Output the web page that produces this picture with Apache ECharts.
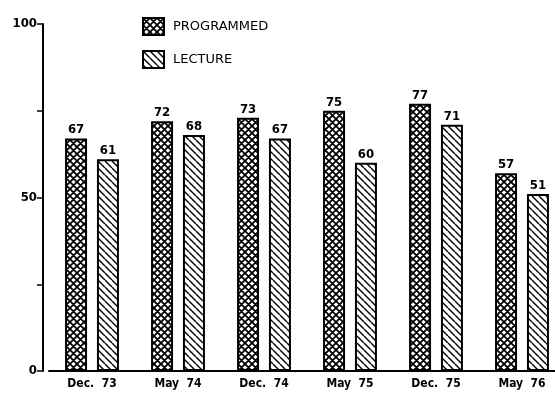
<!DOCTYPE html>
<html><head><meta charset="utf-8">
<script src="https://cdn.jsdelivr.net/npm/echarts@6/dist/echarts.min.js"></script>
<style>html,body{margin:0;padding:0;background:#fff;overflow:hidden}#c{width:565px;height:398px}</style>
</head><body><div id="c"></div>
<script>
const categories = ['Dec.  73', 'May  74', 'Dec.  74', 'May  75', 'Dec.  75', 'May  76'];
const programmed = [67, 72, 73, 75, 77, 57];
const lecture = [61, 68, 67, 60, 71, 51];
const yTickLabels = {0: '0', 50: '50', 100: '100'};

function makePattern(cross) {
  const s = 7;
  const c = document.createElement('canvas');
  c.width = s; c.height = s;
  const ctx = c.getContext('2d');
  ctx.fillStyle = '#fff';
  ctx.fillRect(0, 0, s, s);
  ctx.strokeStyle = '#000';
  ctx.lineWidth = cross ? 1.8 : 1.4;
  ctx.beginPath();
  for (const k of [-s, 0, s]) {
    ctx.moveTo(k, 0); ctx.lineTo(k + s, s);
    if (cross) { ctx.moveTo(k, s); ctx.lineTo(k + s, 0); }
  }
  ctx.stroke();
  return c;
}

const font = '"DejaVu Sans Condensed", "DejaVu Sans", sans-serif';
const chart = echarts.init(document.getElementById('c'), null, {renderer: 'canvas'});
const labelCfg = {show: true, position: 'top', distance: 2, color: '#000', fontWeight: 'bold', fontSize: 13, fontFamily: font};
chart.setOption({
  animation: false,
  backgroundColor: '#fff',
  legend: {
    orient: 'vertical', left: 142, top: 17, padding: 0, itemWidth: 21, itemHeight: 17, itemGap: 14,
    icon: 'rect',
    textStyle: {color: '#000', fontSize: 13, fontFamily: '"DejaVu Sans", sans-serif', padding: [0, 0, 0, 4]},
    data: ['PROGRAMMED', 'LECTURE']
  },
  grid: {left: 49, right: 0, top: 24, bottom: 27},
  xAxis: {
    type: 'category', data: categories,
    axisLine: {lineStyle: {color: '#000', width: 2}},
    axisTick: {show: false},
    axisLabel: {color: '#000', fontWeight: 'bold', fontSize: 12, fontFamily: font, margin: 7}
  },
  yAxis: {
    type: 'value', min: 0, max: 100, interval: 25, offset: 6,
    axisLine: {show: true, lineStyle: {color: '#000', width: 2}},
    axisTick: {show: true, length: 6, lineStyle: {color: '#000', width: 1.5}},
    splitLine: {show: false},
    axisLabel: {color: '#000', fontWeight: 'bold', fontSize: 13, fontFamily: font, margin: 6,
      formatter: v => yTickLabels[v] !== undefined ? yTickLabels[v] : ''}
  },
  series: [
    {name: 'PROGRAMMED', type: 'bar', data: programmed, barWidth: 22, barGap: '45%',
     itemStyle: {color: {image: makePattern(true), repeat: 'repeat'}, borderColor: '#000', borderWidth: 2},
     label: labelCfg},
    {name: 'LECTURE', type: 'bar', data: lecture, barWidth: 22,
     itemStyle: {color: {image: makePattern(false), repeat: 'repeat'}, borderColor: '#000', borderWidth: 2},
     label: labelCfg}
  ]
});
</script></body></html>
